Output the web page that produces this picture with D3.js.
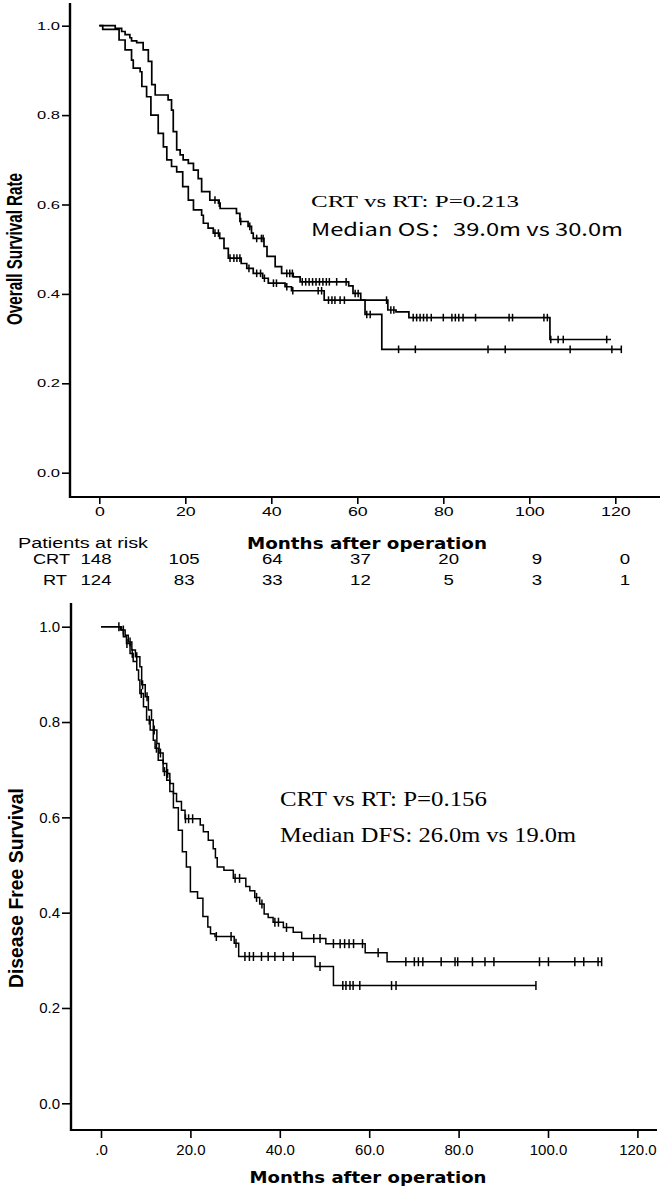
<!DOCTYPE html>
<html><head><meta charset="utf-8">
<script src="https://cdn.jsdelivr.net/npm/d3@7"></script>
<style>html,body{margin:0;padding:0;background:#fff}svg{display:block}</style>
</head><body>
<svg id="c" width="664" height="1193"></svg>
<script>
// ---------- DATA ----------
// Overall survival (top chart)
const osTicksX = [0, 20, 40, 60, 80, 100, 120];
const osTicksY = [0, 0.2, 0.4, 0.6, 0.8, 1.0];
const osCrtTimes = [0, 3.7, 5.2, 6.0, 7.1, 7.5, 8.7, 10.2, 11.4, 12.2, 13.0, 16.0, 16.8, 17.2, 18.0, 18.8, 19.5, 20.7, 21.9, 23.0, 23.8, 25.7, 27.7, 28.1, 31.9, 32.7, 34.6, 35.4, 35.8, 38.3, 39.0, 40.9, 42.4, 45.1, 46.7, 58.0, 59.0, 60.8, 67.1, 69.0, 72.0, 104.8];
const osCrtSurv  = [1.0, 0.994, 0.987, 0.980, 0.973, 0.966, 0.962, 0.946, 0.920, 0.868, 0.845, 0.834, 0.811, 0.763, 0.722, 0.711, 0.700, 0.692, 0.677, 0.658, 0.629, 0.610, 0.603, 0.591, 0.580, 0.562, 0.551, 0.536, 0.524, 0.506, 0.484, 0.461, 0.446, 0.438, 0.427, 0.418, 0.401, 0.386, 0.364, 0.360, 0.347, 0.298];
const osCrtEnd = 119;
const osCrtCensor = [26.9, 27.9, 32.9, 35.0, 36.6, 37.7, 38.1, 43.6, 44.3, 44.9, 47.2, 48.0, 48.8, 49.6, 50.4, 51.2, 52.0, 52.8, 53.5, 55.2, 57.4, 59.5, 60.2, 66.8, 67.8, 68.5, 73.0, 73.8, 74.6, 75.4, 76.2, 77.2, 80.0, 82.0, 82.8, 83.6, 84.6, 87.5, 95.3, 96.1, 103.4, 104.2, 105.0, 106.7, 107.9, 118.0];
const osRtTimes = [0, 0.8, 4.6, 6.0, 7.5, 7.9, 9.5, 9.9, 11.0, 12.0, 13.7, 14.9, 15.7, 16.8, 18.0, 19.4, 20.7, 21.9, 23.8, 24.2, 25.3, 26.5, 28.0, 29.0, 30.0, 33.0, 34.3, 35.8, 38.0, 39.3, 43.2, 44.7, 52.3, 61.8, 65.7];
const osRtSurv  = [1.0, 0.992, 0.968, 0.946, 0.923, 0.905, 0.897, 0.864, 0.841, 0.800, 0.759, 0.729, 0.700, 0.685, 0.673, 0.640, 0.610, 0.588, 0.576, 0.558, 0.547, 0.536, 0.524, 0.502, 0.480, 0.468, 0.457, 0.446, 0.435, 0.424, 0.416, 0.407, 0.386, 0.354, 0.276];
const osRtEnd = 121.4;
const osRtCensor = [26.9, 27.7, 30.4, 31.3, 32.0, 32.7, 34.8, 36.6, 37.5, 38.4, 40.5, 41.2, 43.6, 45.0, 50.9, 51.7, 53.3, 54.1, 54.8, 56.0, 57.0, 62.2, 63.0, 69.6, 73.5, 90.4, 94.4, 109.5, 119.2, 121.4];

// Patients at risk table
const riskTimes = [0, 20, 40, 60, 80, 100, 120];
const riskCRT = [148, 105, 64, 37, 20, 9, 0];
const riskRT  = [124, 83, 33, 12, 5, 3, 1];

// Disease free survival (bottom chart)
const dfsTicksX = [0, 20, 40, 60, 80, 100, 120];
const dfsTicksY = [0, 0.2, 0.4, 0.6, 0.8, 1.0];
const dfsCrtTimes = [0, 4.6, 5.4, 6.1, 6.9, 7.7, 8.7, 9.1, 9.9, 10.6, 11.3, 11.7, 12.5, 13.0, 13.9, 14.7, 15.4, 16.2, 16.9, 18.0, 18.8, 22.2, 22.9, 24.0, 25.1, 25.6, 26.0, 27.5, 29.6, 32.4, 33.3, 34.4, 35.5, 36.5, 37.4, 38.5, 40.8, 43.0, 44.9, 50.3, 59.1, 64.0];
const dfsCrtSurv  = [1.0, 0.993, 0.982, 0.968, 0.951, 0.937, 0.916, 0.878, 0.853, 0.825, 0.804, 0.783, 0.755, 0.735, 0.713, 0.692, 0.671, 0.650, 0.633, 0.615, 0.597, 0.584, 0.570, 0.552, 0.534, 0.515, 0.496, 0.489, 0.472, 0.455, 0.446, 0.432, 0.418, 0.397, 0.390, 0.380, 0.369, 0.359, 0.346, 0.335, 0.316, 0.297];
const dfsCrtEnd = 112;
const dfsCrtCensor = [5.0, 6.5, 8.0, 9.3, 10.3, 11.9, 13.3, 14.9, 18.9, 19.6, 20.5, 30.0, 31.0, 34.8, 36.0, 38.9, 39.7, 41.5, 47.6, 49.0, 52.0, 53.5, 54.5, 55.5, 56.5, 58.5, 62.0, 68.2, 70.1, 71.0, 72.0, 76.1, 79.2, 79.8, 83.1, 85.9, 87.9, 98.1, 100.1, 106.0, 108.0, 111.2, 112.0];
const dfsRtTimes = [0, 4.3, 5.0, 5.7, 6.5, 7.2, 8.0, 8.4, 8.7, 9.5, 10.2, 11.0, 11.7, 12.1, 12.8, 13.9, 14.7, 15.4, 16.2, 17.3, 18.2, 19.1, 20.0, 21.6, 22.8, 23.9, 24.5, 25.5, 29.8, 30.8, 47.9, 52.0];
const dfsRtSurv  = [1.0, 0.993, 0.979, 0.965, 0.944, 0.927, 0.909, 0.888, 0.860, 0.832, 0.804, 0.783, 0.762, 0.745, 0.720, 0.696, 0.678, 0.654, 0.620, 0.573, 0.528, 0.496, 0.444, 0.430, 0.392, 0.370, 0.356, 0.350, 0.336, 0.308, 0.287, 0.247];
const dfsRtEnd = 97.3;
const dfsRtCensor = [4.0, 5.8, 7.0, 9.0, 10.8, 12.4, 14.2, 25.8, 29.1, 30.2, 32.2, 33.2, 34.1, 35.9, 37.4, 38.9, 40.8, 43.0, 49.0, 54.1, 54.8, 55.7, 56.4, 57.9, 65.0, 66.0, 97.3];

// ---------- DRAW ----------
const svg = d3.select("#c");
svg.append("rect").attr("width", 664).attr("height", 1193).attr("fill", "#fff");
const SANS = "'Liberation Sans', Arial, sans-serif";
const SERIF = "'Liberation Serif', 'Times New Roman', serif";

function stretch(sel, k) {
  sel.each(function () {
    const w = this.getComputedTextLength();
    d3.select(this).attr("textLength", w * k).attr("lengthAdjust", "spacingAndGlyphs");
  });
}
function fitText(sel, len) {
  sel.attr("textLength", len).attr("lengthAdjust", "spacingAndGlyphs");
}

function survAt(times, surv, t) {
  const i = d3.bisectRight(times, t) - 1;
  return surv[Math.max(0, i)];
}

function drawCurve(g, x, y, times, surv, end, censor, lw, mark) {
  const pts = times.map((t, i) => [t, surv[i]]);
  pts.push([end, surv[surv.length - 1]]);
  const line = d3.line().x(d => x(d[0])).y(d => y(d[1])).curve(d3.curveStepAfter);
  g.append("path").attr("d", line(pts)).attr("fill", "none")
    .attr("stroke", "#000").attr("stroke-width", lw);
  g.selectAll(null).data(censor).enter().append("line")
    .attr("x1", d => x(d)).attr("x2", d => x(d))
    .attr("y1", d => y(survAt(times, surv, d)) - mark)
    .attr("y2", d => y(survAt(times, surv, d)) + mark)
    .attr("stroke", "#000").attr("stroke-width", 1.5);
}

// ===== TOP CHART =====
{
  const x = d3.scaleLinear().domain([0, 120]).range([99.3, 615.3]);
  const y = d3.scaleLinear().domain([0, 1]).range([472.7, 25.7]);
  const axX = 70, axY = 497;
  const g = svg.append("g");

  const yAx = g.append("g").attr("transform", `translate(${axX},0)`)
    .call(d3.axisLeft(y).tickValues(osTicksY).tickFormat(d3.format(".1f")).tickSize(8).tickPadding(2).tickSizeOuter(0));
  yAx.select(".domain").remove();
  yAx.selectAll("line").attr("stroke", "#000").attr("stroke-width", 1.6);
  yAx.selectAll("text").attr("font-family", SANS).attr("font-size", 11).attr("fill", "#000").call(stretch, 1.5);

  const xAx = g.append("g").attr("transform", `translate(0,${axY})`)
    .call(d3.axisBottom(x).tickValues(osTicksX).tickFormat(d3.format("d")).tickSize(7).tickPadding(3).tickSizeOuter(0));
  xAx.select(".domain").remove();
  xAx.selectAll("line").attr("stroke", "#000").attr("stroke-width", 1.6);
  xAx.selectAll("text").attr("font-family", SANS).attr("font-size", 12.5).attr("fill", "#000").call(stretch, 1.42);

  g.append("line").attr("x1", axX).attr("x2", axX).attr("y1", 3).attr("y2", axY + 1)
    .attr("stroke", "#000").attr("stroke-width", 2.4);
  g.append("line").attr("x1", axX).attr("x2", 660).attr("y1", axY).attr("y2", axY)
    .attr("stroke", "#000").attr("stroke-width", 2.2);

  drawCurve(g, x, y, osRtTimes, osRtSurv, osRtEnd, osRtCensor, 1.7, 3.8);
  drawCurve(g, x, y, osCrtTimes, osCrtSurv, osCrtEnd, osCrtCensor, 1.7, 3.8);

  g.append("text").attr("transform", "translate(21.7,249) rotate(-90)")
    .attr("text-anchor", "middle").attr("font-family", SANS).attr("font-weight", "bold").attr("font-size", 21.5)
    .text("Overall Survival Rate").call(fitText, 152);

  g.append("text").attr("x", 311).attr("y", 207.3).attr("font-family", SERIF).attr("font-size", 17)
    .text("CRT vs RT: P=0.213").call(fitText, 208);
  g.append("text").attr("x", 311).attr("y", 235.5).attr("font-family", "'Noto Sans CJK SC', 'Noto Sans', sans-serif").attr("font-size", 17.5)
    .text("Median OS：39.0m vs 30.0m").call(fitText, 312);

  g.append("text").attr("x", 367).attr("y", 548.6).attr("text-anchor", "middle")
    .attr("font-family", "'DejaVu Sans', Verdana, sans-serif").attr("font-weight", "bold").attr("font-size", 15.5)
    .text("Months after operation").call(fitText, 240);

  g.append("text").attr("x", 18).attr("y", 548).attr("font-family", SANS).attr("font-size", 14)
    .text("Patients at risk").call(fitText, 130);
  const rx = d3.scaleLinear().domain([0, 120]).range([96, 625]);
  const rows = [["CRT", riskCRT, 564.3, 51.5], ["RT", riskRT, 585, 55]];
  rows.forEach(([lab, vals, by, lx]) => {
    g.append("text").attr("x", lx).attr("y", by).attr("text-anchor", "middle")
      .attr("font-family", SANS).attr("font-size", 14).text(lab).call(stretch, 1.3);
    g.selectAll(null).data(vals).enter().append("text")
      .attr("x", (d, i) => rx(riskTimes[i])).attr("y", by).attr("text-anchor", "middle")
      .attr("font-family", SANS).attr("font-size", 14).text(d => d).call(stretch, 1.33);
  });
}

// ===== BOTTOM CHART =====
{
  const x = d3.scaleLinear().domain([0, 120]).range([101, 637.4]);
  const y = d3.scaleLinear().domain([0, 1]).range([1103.3, 626.7]);
  const axX = 71, axY = 1130;
  const g = svg.append("g");

  const yAx = g.append("g").attr("transform", `translate(${axX},0)`)
    .call(d3.axisLeft(y).tickValues(dfsTicksY).tickFormat(d3.format(".1f")).tickSize(9).tickPadding(2).tickSizeOuter(0));
  yAx.select(".domain").remove();
  yAx.selectAll("line").attr("stroke", "#000").attr("stroke-width", 1.6);
  yAx.selectAll("text").attr("font-family", SANS).attr("font-size", 15).attr("fill", "#000");

  const fmt = d => d === 0 ? ".0" : d3.format(".1f")(d);
  const xAx = g.append("g").attr("transform", `translate(0,${axY})`)
    .call(d3.axisBottom(x).tickValues(dfsTicksX).tickFormat(fmt).tickSize(8).tickPadding(6).tickSizeOuter(0));
  xAx.select(".domain").remove();
  xAx.selectAll("line").attr("stroke", "#000").attr("stroke-width", 1.6);
  xAx.selectAll("text").attr("font-family", SANS).attr("font-size", 15).attr("fill", "#000");

  g.append("line").attr("x1", axX).attr("x2", axX).attr("y1", 603).attr("y2", axY + 1)
    .attr("stroke", "#000").attr("stroke-width", 2.4);
  g.append("line").attr("x1", axX).attr("x2", 657).attr("y1", axY).attr("y2", axY)
    .attr("stroke", "#000").attr("stroke-width", 2.2);

  drawCurve(g, x, y, dfsRtTimes, dfsRtSurv, dfsRtEnd, dfsRtCensor, 1.5, 4.5);
  drawCurve(g, x, y, dfsCrtTimes, dfsCrtSurv, dfsCrtEnd, dfsCrtCensor, 1.5, 4.5);

  g.append("text").attr("transform", "translate(23,888) rotate(-90)")
    .attr("text-anchor", "middle").attr("font-family", SANS).attr("font-weight", "bold").attr("font-size", 21)
    .text("Disease Free Survival").call(fitText, 200);

  g.append("text").attr("x", 280).attr("y", 805.6).attr("font-family", SERIF).attr("font-size", 20)
    .text("CRT vs RT: P=0.156").call(fitText, 207);
  g.append("text").attr("x", 280).attr("y", 841.6).attr("font-family", SERIF).attr("font-size", 20)
    .text("Median DFS: 26.0m vs 19.0m").call(fitText, 296);

  g.append("text").attr("x", 368).attr("y", 1182.8).attr("text-anchor", "middle")
    .attr("font-family", "'DejaVu Sans', Verdana, sans-serif").attr("font-weight", "bold").attr("font-size", 16)
    .text("Months after operation").call(fitText, 237);
}
</script>
</body></html>
